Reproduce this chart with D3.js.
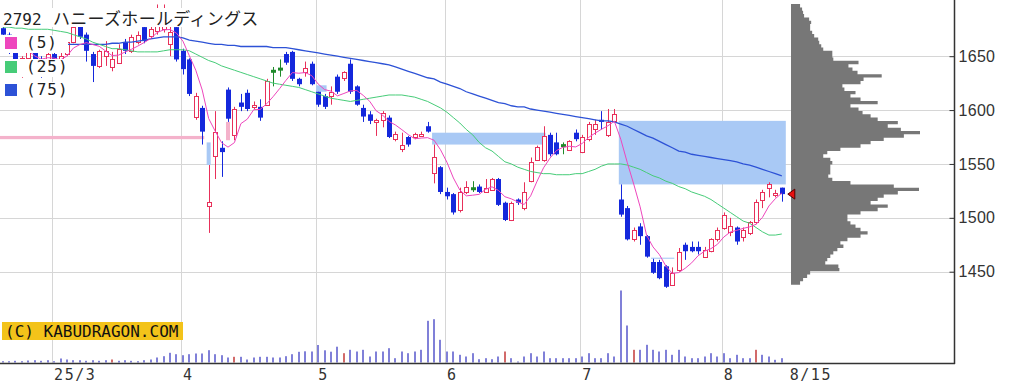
<!DOCTYPE html>
<html>
<head>
<meta charset="utf-8">
<script src="https://cdn.jsdelivr.net/npm/d3@7"></script>
<style>
  body { margin: 0; background: #fff; }
  svg { display: block; }
</style>
</head>
<body>
<div id="chart"></div>
<script>
// ---- data ----
const stockCode = "2792";
const stockName = "ハニーズホールディングス";
const firstDay = "2025-02-18", lastDay = "2025-08-15";
const holidays = ["2025-02-24", "2025-03-20", "2025-04-29", "2025-05-05", "2025-05-06", "2025-07-21", "2025-08-11"];
const sqDates = ["2025-03-14", "2025-04-11", "2025-05-09", "2025-06-13", "2025-07-11", "2025-08-08"];

const opens = [
  1676,1670,1655,1645,1648,1658,1645,1640,1652,1646,
  1652,1663,1678,1670,1652,1641,1650,1640,1644,1663,
  1655,1663,1677,1669,1673,1675,1661,1677,1655,1647,
  1594,1602,1511,1557,1565,1619,1577,1607,1616,1603,
  1603,1605,1636,1638,1652,1654,1629,1635,1643,1617,
  1613,1613,1631,1630,1643,1622,1602,1596,1589,1591,
  1593,1573,1564,1575,1575,1576,1585,1542,1547,1524,
  1522,1507,1524,1527,1529,1524,1526,1536,1514,1498,
  1517,1509,1534,1554,1554,1577,1570,1567,1563,1579,
  1561,1573,1582,1591,1577,1590,1517,1509,1480,1492,
  1483,1459,1459,1455,1438,1452,1475,1473,1473,1464,
  1469,1480,1491,1487,1491,1482,1486,1496,1517,1528,1521,1528
];
const highs = [
  1680,1672,1660,1650,1660,1662,1650,1655,1660,1656,
  1664,1679,1680,1672,1654,1656,1664,1654,1661,1666,
  1670,1673,1679,1684,1698,1698,1680,1682,1657,1648,
  1616,1604,1549,1599,1571,1621,1603,1615,1619,1608,
  1610,1629,1640,1647,1654,1655,1630,1645,1645,1617,
  1615,1622,1633,1636,1647,1623,1605,1599,1592,1599,
  1595,1580,1579,1576,1579,1580,1589,1568,1548,1528,
  1523,1528,1534,1534,1531,1536,1537,1537,1515,1515,
  1518,1533,1556,1567,1585,1579,1579,1570,1572,1582,
  1577,1589,1591,1599,1601,1601,1531,1511,1491,1495,
  1484,1462,1461,1456,1454,1472,1477,1478,1478,1473,
  1481,1491,1505,1500,1492,1491,1497,1517,1526,1533,1526,1528
];
const lows = [
  1668,1652,1640,1630,1644,1640,1630,1632,1644,1631,
  1650,1662,1666,1645,1626,1639,1641,1636,1643,1652,
  1653,1661,1662,1666,1670,1672,1650,1645,1633,1613,
  1591,1568,1486,1536,1538,1589,1572,1599,1599,1601,
  1590,1604,1622,1631,1642,1627,1622,1631,1623,1603,
  1601,1605,1615,1627,1615,1604,1589,1587,1576,1584,
  1574,1571,1561,1566,1573,1575,1579,1532,1522,1517,
  1503,1505,1522,1524,1523,1524,1525,1511,1497,1497,
  1512,1507,1533,1553,1552,1557,1558,1559,1562,1571,
  1560,1571,1577,1582,1575,1590,1501,1479,1478,1475,
  1463,1448,1443,1435,1438,1450,1461,1468,1466,1463,
  1468,1478,1489,1483,1475,1478,1484,1494,1509,1519,1519,1515
];
const closes = [
  1670,1655,1645,1648,1658,1645,1640,1652,1646,1650,
  1663,1677,1668,1655,1641,1655,1655,1647,1657,1655,
  1668,1670,1664,1675,1683,1680,1672,1647,1638,1615,
  1613,1580,1515,1580,1561,1592,1601,1603,1601,1605,
  1593,1627,1636,1638,1644,1629,1624,1639,1624,1605,
  1603,1617,1617,1635,1617,1605,1594,1590,1591,1597,
  1575,1578,1568,1568,1578,1578,1580,1556,1524,1520,
  1505,1524,1529,1527,1524,1528,1536,1512,1498,1514,
  1514,1524,1552,1566,1576,1559,1559,1567,1571,1573,
  1575,1587,1587,1589,1589,1596,1503,1480,1489,1483,
  1464,1449,1444,1436,1449,1468,1469,1469,1469,1470,
  1480,1489,1503,1492,1478,1489,1496,1515,1524,1531,1523,1522
];
const volumes = [
  1300,1300,1700,1300,2000,2300,1700,2300,1300,4000,
  3000,2300,2300,1700,2300,1700,2300,3000,1700,2300,
  1700,1300,2300,3000,5000,6300,9700,8300,7300,8300,
  9000,9000,12300,8300,7300,5000,5700,5700,3000,5000,
  5700,5700,5000,5000,6300,8300,10700,11200,11000,17500,
  12200,10800,15800,9300,12700,11000,12700,6000,11000,11000,
  14300,4300,11000,9300,11000,12700,41700,43300,22700,11000,
  11000,7700,6000,9300,3300,4300,3300,6000,11000,4300,
  1000,6000,9300,6000,11000,4300,4300,4300,4300,4300,
  6000,9300,4300,4300,9300,6000,72000,37000,12700,12700,
  17700,12700,11000,12700,7700,12700,6000,4300,4300,6000,
  9300,6000,9300,4300,7700,4300,4300,12700,7700,6000,2700,4300
];
const ma25 = [
  1677,1677,1676,1676,1675,1675,1675,1675,1674,1673,
  1672,1670,1668,1666,1663,1661,1659,1657,1657,1656,
  1655,1654,1654,1654,1654,1655,1656,1656,1656,1655,
  1652,1649,1646,1644,1641,1639,1637,1635,1633,1631,
  1629,1627,1625,1624,1623,1622,1621,1619,1617,1615,
  1613,1611,1610,1609,1608,1609,1610,1611,1612,1613,
  1614,1614,1614,1613,1612,1610,1608,1605,1602,1598,
  1593,1588,1582,1577,1570,1565,1562,1557,1552,1550,
  1547,1545,1543,1542,1541,1541,1540,1540,1540,1541,
  1541,1543,1545,1548,1550,1550,1550,1549,1547,1545,
  1542,1539,1537,1534,1532,1529,1527,1524,1522,1520,
  1517,1513,1509,1505,1501,1497,1495,1491,1487,1484,1484,1485
];
const ma75 = [
  1664,1664,1663,1663,1663,1662,1662,1662,1661,1661,
  1661,1661,1661,1661,1661,1661,1661,1662,1662,1663,
  1663,1664,1665,1666,1667,1668,1668,1668,1667,1665,
  1664,1663,1662,1661,1661,1660,1660,1659,1659,1659,
  1659,1659,1658,1658,1658,1657,1656,1655,1654,1653,
  1652,1651,1650,1649,1648,1647,1646,1645,1644,1643,
  1642,1640,1638,1636,1634,1632,1630,1629,1626,1624,
  1622,1620,1617,1615,1613,1611,1609,1607,1606,1604,
  1603,1603,1601,1600,1599,1598,1597,1596,1595,1594,
  1593,1592,1591,1590,1590,1589,1587,1585,1582,1579,
  1576,1574,1571,1568,1565,1562,1561,1559,1558,1557,
  1556,1555,1554,1553,1552,1550,1549,1547,1545,1543,1541,1539
];
// price gaps (windows): from / to trading day, price top / bottom
const gapFrom = ["2025-02-18", "2025-04-07", "2025-04-10", "2025-05-01", "2025-05-29", "2025-07-09", "2025-07-16"];
const gapTo   = ["2025-04-04", "2025-04-07", "2025-04-10", "2025-05-02", "2025-06-23", "2025-08-15", "2025-07-22"];
const gapTop  = [1576, 1570, 1589, 1623, 1579, 1590, 1463];
const gapBot  = [1573, 1549, 1572, 1617, 1568, 1531, 1462];
const gapUp   = [true, false, true, false, false, false, false];
// price-by-volume profile, from the top bin downward
const profileTop = 1698.4, profileStep = 3.1;
const profile = [
  9,11,12,13,18,20,19,19,21,23,
  27,28,30,32,41,41,42,67,57,61,
  66,90,72,69,51,53,64,59,69,86,
  59,67,71,79,86,106,96,109,128,112,
  92,79,69,49,36,32,39,41,39,39,
  39,37,41,59,102,127,106,92,86,79,
  96,86,69,56,56,59,64,69,76,69,
  56,49,52,46,42,39,36,34,47,48,
  19,16,12,9
];
const priceTicks = [1450, 1500, 1550, 1600, 1650];
const maLabels = ["(5)", "(25)", "(75)"];
const maColors = ["#ee46bd", "#46cc78", "#2d52d6"];

// ---- layout ----
const W = 1025, H = 387;
const axisX = 954, axisY = 363;
const RED = "#e8305a", BLUE = "#1428dc", GREEN = "#1f8a2a";

const fmt = d3.utcFormat("%Y-%m-%d");
const dates = d3.utcDays(new Date(firstDay), d3.utcDay.offset(new Date(lastDay), 1))
  .filter(d => d.getUTCDay() % 6 !== 0 && !holidays.includes(fmt(d)))
  .map(fmt);

const x = d3.scalePoint().domain(dates).range([2.6, 781.8]);
const y = d3.scaleLinear().domain([1450, 1650]).range([271.7, 56.2]);
const yVol = d3.scaleLinear().domain([0, 72000]).range([362.5, 290.5]);
const xProf = d3.scaleLinear().domain([0, 128]).range([791, 920]);

const svg = d3.select("#chart").append("svg").attr("width", W).attr("height", H);

// gridlines
svg.append("g").selectAll("line").data(priceTicks).enter().append("line")
  .attr("x1", 0).attr("x2", axisX).attr("y1", d => Math.round(y(d)) + 0.5).attr("y2", d => Math.round(y(d)) + 0.5)
  .attr("stroke", "#d6d6d6");

const monthStarts = dates.filter((d, i) => i > 0 && d.slice(5, 7) !== dates[i - 1].slice(5, 7));
svg.append("g").selectAll("line").data(monthStarts).enter().append("line")
  .attr("x1", d => Math.round(x(d)) - 1.5).attr("x2", d => Math.round(x(d)) - 1.5)
  .attr("y1", 0).attr("y2", axisY)
  .attr("stroke", "#d6d6d6");

// gap zones
svg.append("g").selectAll("rect").data(gapFrom).enter().append("rect")
  .attr("x", (d, i) => i === 0 && d === dates[0] ? 0 : x(d) - 2)
  .attr("width", (d, i) => (gapTo[i] === lastDay ? x(gapTo[i]) + 4 : x(gapTo[i]) + 2) - (d === dates[0] ? 0 : x(d) - 2))
  .attr("y", (d, i) => y(gapTop[i]))
  .attr("height", (d, i) => Math.max(1, y(gapBot[i]) - y(gapTop[i])))
  .attr("fill", (d, i) => gapUp[i] ? "#f4b2cb" : "#a9c9f5");

// volume
svg.append("g").selectAll("rect").data(dates).enter().append("rect")
  .attr("x", d => Math.round(x(d)) - 1)
  .attr("width", 2)
  .attr("y", (d, i) => yVol(volumes[i]))
  .attr("height", (d, i) => yVol(0) - yVol(volumes[i]))
  .attr("fill", d => sqDates.includes(d) ? "#d26a6a" : "#8080d8");

// candles
const candles = dates.map((d, i) => ({ d, o: opens[i], h: highs[i], l: lows[i], c: closes[i] }));
const colorOf = k => k.c > k.o ? RED : k.c < k.o ? BLUE : GREEN;
const gC = svg.append("g");
gC.selectAll("line").data(candles).enter().append("line")
  .attr("x1", k => Math.round(x(k.d)) + 0.5).attr("x2", k => Math.round(x(k.d)) + 0.5)
  .attr("y1", k => y(k.h)).attr("y2", k => y(k.l))
  .attr("stroke", colorOf);
gC.selectAll("rect").data(candles).enter().append("rect")
  .attr("x", k => k.c > k.o ? Math.round(x(k.d)) - 1.5 : Math.round(x(k.d)) - 2)
  .attr("width", k => k.c > k.o ? 4 : 5)
  .attr("y", k => k.c === k.o ? y(k.c) - 1.5 : (k.c > k.o ? Math.round(y(k.c)) + 0.5 : y(k.o)))
  .attr("height", k => k.c === k.o ? 3 : (k.c > k.o ? Math.max(1, Math.round(y(k.o)) - Math.round(y(k.c))) : Math.max(1.5, y(k.c) - y(k.o))))
  .attr("fill", k => k.c > k.o ? "#fff" : colorOf(k))
  .attr("stroke", k => k.c > k.o ? RED : "none");

// moving averages
const ma5 = closes.map((c, i) => i < 4 ? null : d3.mean(closes.slice(i - 4, i + 1)));
const line = d3.line().defined(p => p[1] != null).x(p => x(p[0])).y(p => y(p[1]));
[[ma75, maColors[2], 1.3], [ma25, maColors[1], 1], [ma5, maColors[0], 1]].forEach(([vals, col, w]) => {
  svg.append("path")
    .datum(dates.map((d, i) => [d, vals[i]]))
    .attr("d", line)
    .attr("fill", "none").attr("stroke", col).attr("stroke-width", w);
});

// price-by-volume profile, drawn as one stepped shape
const profPts = profile.map((v, i) => [v, profileTop - i * profileStep]);
profPts.push([profile[profile.length - 1], profileTop - profile.length * profileStep]);
svg.append("path")
  .datum(profPts)
  .attr("d", d3.area().curve(d3.curveStepBefore)
    .y(p => y(p[1])).x0(xProf(0)).x1(p => xProf(p[0])))
  .attr("fill", "#777");

// current price marker
const lastClose = closes[closes.length - 1];
const my = y(lastClose);
svg.append("path")
  .attr("d", `M${x(lastDay) + 6},${my} L${x(lastDay) + 13},${my - 5} L${x(lastDay) + 13},${my + 5} Z`)
  .attr("fill", "#e81010").attr("stroke", "#550000").attr("stroke-width", 1);

// axes frame
svg.append("line").attr("x1", axisX + 0.5).attr("x2", axisX + 0.5).attr("y1", 0).attr("y2", axisY + 1)
  .attr("stroke", "#333").attr("stroke-width", 1.5);
svg.append("line").attr("x1", 0).attr("x2", axisX + 1).attr("y1", axisY + 0.5).attr("y2", axisY + 0.5)
  .attr("stroke", "#333").attr("stroke-width", 1.5);

const yAxis = svg.append("g").attr("transform", `translate(${axisX + 0.5},0)`)
  .call(d3.axisRight(y).tickValues(priceTicks).tickSizeInner(-5).tickSizeOuter(0).tickPadding(4).tickFormat(d3.format("d")));
yAxis.select(".domain").remove();
yAxis.selectAll("line").attr("stroke", "#333");
yAxis.selectAll("text").attr("font-family", "Liberation Sans, Arial, sans-serif").attr("font-size", 16)
  .attr("fill", "#333").attr("letter-spacing", 0.3);

// month labels
const monthLabel = d => d.slice(5, 7) === "03" ? "25/3" : String(+d.slice(5, 7));
svg.append("g").selectAll("text").data(monthStarts).enter().append("text")
  .attr("x", d => x(d)).attr("y", 380)
  .attr("font-family", "DejaVu Sans Mono, monospace").attr("font-size", 15).attr("letter-spacing", 1.5)
  .attr("fill", "#333")
  .text(monthLabel);
svg.append("text").attr("x", x(lastDay) + 8).attr("y", 380)
  .attr("font-family", "DejaVu Sans Mono, monospace").attr("font-size", 15).attr("letter-spacing", 1.5)
  .attr("fill", "#333")
  .text(+lastDay.slice(5, 7) + "/" + +lastDay.slice(8, 10));

// title and legend, on white boxes
svg.append("rect").attr("x", 0).attr("y", 8).attr("width", 265).attr("height", 19).attr("fill", "#fff");
const title = svg.append("text").attr("y", 25).attr("fill", "#222");
title.append("tspan").attr("x", 3).attr("font-family", "DejaVu Sans Mono, monospace").attr("font-size", 16).text(stockCode);
title.append("tspan").attr("x", 53).attr("font-family", "Noto Sans CJK JP, sans-serif").attr("font-size", 17)
  .attr("letter-spacing", 0.3).text(stockName);

const legendY = [35, 59, 82];
const lg = svg.append("g").selectAll("g").data(maLabels).enter().append("g")
  .attr("transform", (d, i) => `translate(0,${legendY[i]})`);
lg.append("rect").attr("x", 0).attr("y", 0).attr("width", 68).attr("height", 18).attr("fill", "#fff");
lg.append("rect").attr("x", 5).attr("y", 2).attr("width", 12).attr("height", 12).attr("fill", (d, i) => maColors[i]);
lg.append("text").attr("x", 26).attr("y", 12.5)
  .attr("font-family", "DejaVu Sans Mono, monospace").attr("font-size", 16).attr("letter-spacing", 1)
  .attr("fill", "#222").text(d => d);

// copyright
svg.append("rect").attr("x", 2).attr("y", 322).attr("width", 181).attr("height", 18).attr("fill", "#f3c31a");
svg.append("text").attr("x", 5).attr("y", 337)
  .attr("font-family", "DejaVu Sans Mono, monospace").attr("font-size", 16).attr("fill", "#111")
  .text("(C) KABUDRAGON.COM");
</script>
</body>
</html>
